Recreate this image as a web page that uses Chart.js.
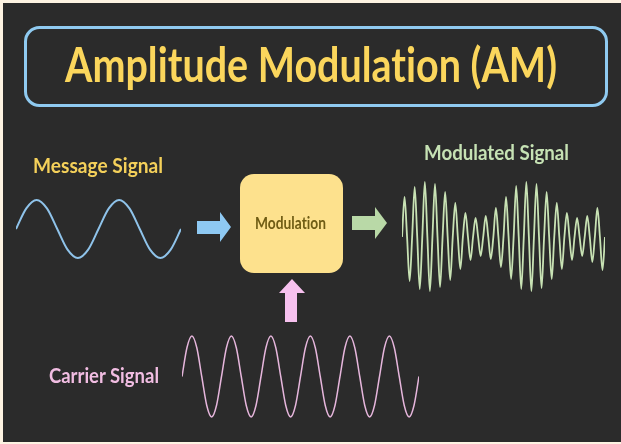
<!DOCTYPE html>
<html>
<head>
<meta charset="utf-8">
<script src="https://cdn.jsdelivr.net/npm/chart.js@4.4.1/dist/chart.umd.min.js"></script>
<style>
  body { margin: 0; background: #fdf3e2; }
  #page { position: relative; width: 621px; height: 444px; background: #fdf3e2; overflow: hidden; }
  #panel { position: absolute; left: 3px; top: 3px; width: 618px; height: 439px; background: #2b2b2b; }
  canvas { position: absolute; }
  #overlay { position: absolute; left: 0; top: 0; }
  text { font-family: Lato, "Noto Sans", sans-serif; font-variant-ligatures: none; font-feature-settings: "liga" 0; }
</style>
</head>
<body>
<div id="page">
  <div id="panel"></div>
  <canvas id="message" width="165" height="68" style="left:16px;top:195px"></canvas>
  <canvas id="carrier" width="237" height="91" style="left:182px;top:331px"></canvas>
  <canvas id="modulated" width="203" height="120" style="left:402px;top:177px"></canvas>
  <svg id="overlay" width="621" height="444">
    <rect x="25.5" y="27.5" width="581" height="78" rx="14" fill="none" stroke="#8fcaf0" stroke-width="3"/>
    <text x="65" y="82" font-size="48" font-weight="700" fill="#fbd65c" textLength="492" lengthAdjust="spacingAndGlyphs">Amplitude Modulation (AM)</text>

    <text x="33" y="173" font-size="21" font-weight="700" fill="#f4d05a" textLength="130" lengthAdjust="spacingAndGlyphs">Message Signal</text>
    <text x="424" y="160" font-size="21" font-weight="700" fill="#c6e2b4" textLength="145" lengthAdjust="spacingAndGlyphs">Modulated Signal</text>
    <text x="49" y="383" font-size="21" font-weight="700" fill="#f1bde2" textLength="110" lengthAdjust="spacingAndGlyphs">Carrier Signal</text>

    <rect x="240" y="174" width="103" height="99" rx="14" fill="#fde18d"/>
    <text x="255" y="229" font-size="17" font-weight="700" fill="#6f5c14" textLength="71" lengthAdjust="spacingAndGlyphs">Modulation</text>

    <polygon points="197,221 220,221 220,212 231,227 220,242 220,234 197,234" fill="#8ec9f3"/>
    <polygon points="352,216 375,216 375,207 387,223 375,239 375,230 352,230" fill="#b9d9a7"/>
    <polygon points="292,279 305,293 297,293 297,322 285,322 285,293 279,293" fill="#f7c1ef"/>
  </svg>
</div>
<script>
// message signal: two cycles, 8 readings per cycle
const messageSignal = [
  0, 0.71, 1, 0.71, 0, -0.71, -1, -0.71,
  0, 0.71, 1, 0.71, 0, -0.71, -1, -0.71,
  0
];

// carrier signal: six cycles, 8 readings per cycle
const carrierSignal = [
  0, 0.71, 1, 0.71, 0, -0.71, -1, -0.71,
  0, 0.71, 1, 0.71, 0, -0.71, -1, -0.71,
  0, 0.71, 1, 0.71, 0, -0.71, -1, -0.71,
  0, 0.71, 1, 0.71, 0, -0.71, -1, -0.71,
  0, 0.71, 1, 0.71, 0, -0.71, -1, -0.71,
  0, 0.71, 1, 0.71, 0, -0.71, -1, -0.71,
  0
];

// modulated signal: height of each crest and depth of each trough (20 cycles)
const modulatedPeaks   = [40, 50, 55, 53, 45, 34, 24, 19, 21, 29, 40, 51, 55, 53, 45, 34, 24, 19, 21, 29];
const modulatedTroughs = [44, 52, 54, 50, 43, 32, 23, 19, 22, 30, 42, 52, 54, 51, 42, 32, 23, 19, 25, 33];

const modulatedSignal = [];
modulatedPeaks.forEach(function (p, i) {
  modulatedSignal.push(0, p, 0, -modulatedTroughs[i]);
});
modulatedSignal.push(0);

function drawWave(id, values, color, width, yMax) {
  new Chart(document.getElementById(id), {
    type: "line",
    data: {
      labels: values.map(function (v, i) { return i; }),
      datasets: [
        {
          data: values,
          borderColor: color,
          borderWidth: width,
          pointRadius: 0,
          fill: false,
          cubicInterpolationMode: "monotone",
          clip: false,
        },
      ],
    },
    options: {
      responsive: false,
      animation: false,
      events: [],
      layout: { padding: 0 },
      plugins: {
        legend: { display: false },
        tooltip: { enabled: false },
      },
      scales: {
        x: { display: false },
        y: { display: false, min: -yMax, max: yMax },
      },
    },
  });
}

drawWave("message", messageSignal, "#8fc3ea", 2, 1.172);
drawWave("carrier", carrierSignal, "#e6b6dc", 1.5, 1.124);
drawWave("modulated", modulatedSignal, "#c8e2b4", 1.8, 60);
</script>
</body>
</html>
